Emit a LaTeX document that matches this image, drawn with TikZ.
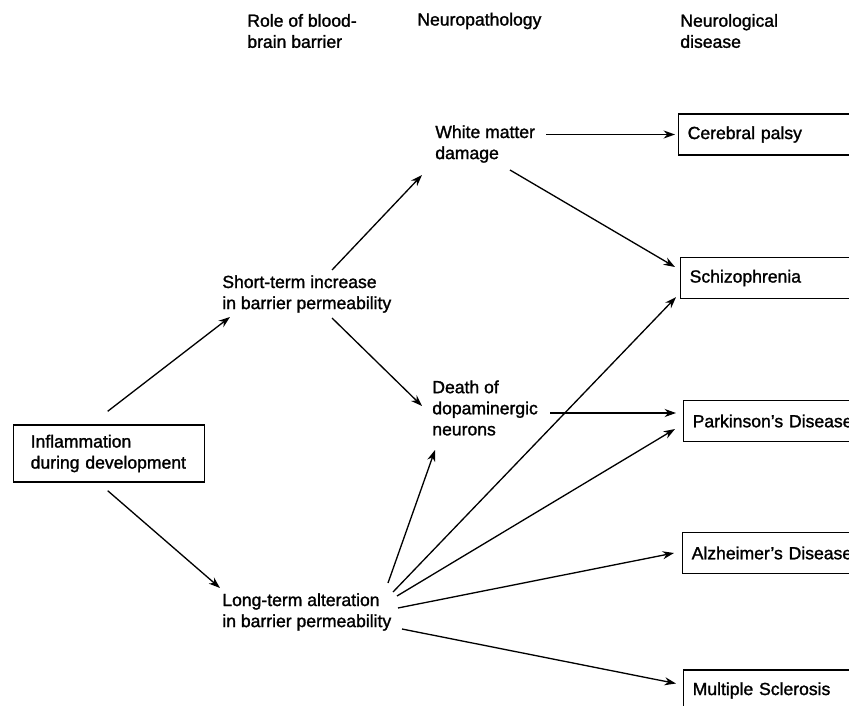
\documentclass[tikz,border=0pt]{standalone}
\usepackage{fontspec}
\setmainfont{Liberation Sans}[AutoFakeBold=1.4]
\usetikzlibrary{arrows.meta, positioning, calc}

\begin{document}
\begin{tikzpicture}[x=0.02cm, y=-0.02cm,
    lbl/.style={anchor=west, align=left, inner sep=0pt, font=\fontsize{10}{12}\selectfont\bfseries},
    dis/.style={draw, line width=0.8pt, anchor=west, minimum height=0.82cm,
                text width=4cm, inner xsep=0.18cm, font=\fontsize{10}{12}\selectfont\bfseries},
    arr/.style={-{Stealth[length=6.5pt, width=4.6pt]}, line width=0.75pt}
]
\clip (0,0) rectangle (849,706);
%% column headings
\node[lbl] (hRole) at (247,31) {Role of blood-\\brain barrier};
\node[lbl] (hPath) at (417,21) {Neuropathology};
\node[lbl] (hDis)  at (680,31) {Neurological\\disease};
%% cause
\node[draw, line width=0.8pt, anchor=west, minimum height=1.14cm,
      text width=3.14cm, inner xsep=0.34cm, align=left,
      font=\fontsize{10}{12}\selectfont\bfseries] (infl) at (13,453.5)
      {Inflammation\\during development};
%% role of the barrier
\node[lbl] (st) at (222,294) {Short-term increase\\in barrier permeability};
\node[lbl] (lt) at (222,612) {Long-term alteration\\in barrier permeability};
%% neuropathology
\node[lbl] (wm) at (435,144) {White matter\\damage};
\node[lbl] (dd) at (432,408) {Death of\\dopaminergic\\neurons};
%% diseases (boxes run off the right edge)
\node[dis] (cp) at (678,134.5) {Cerebral palsy};
\node[dis] (sz) at (680,278) {Schizophrenia};
\node[dis] (pd) at (683,421) {Parkinson's Disease};
\node[dis] (ad) at (682,553) {Alzheimer's Disease};
\node[dis] (ms) at (683,690.5) {Multiple Sclerosis};
%% arrows from inflammation
\draw[arr] ($(infl.north)+(-1.5,-13)$) -- ($(st.west)+(8,23)$);
\draw[arr] ($(infl.south)+(-1.5,8)$) -- ($(lt.west)+(-2,-24)$);
%% short-term branch
\draw[arr] ($(st.west)+(110,-24)$) -- ($(wm.west)+(-13,31)$);
\draw[arr] ($(st.west)+(110,24)$) -- ($(dd.west)+(-10,-2)$);
%% white matter damage
\draw[arr] ($(cp.west)+(-132,0)$) -- ($(cp.west)+(-3,0)$);
\draw[arr] ($(wm.west)+(75,26)$) -- ($(sz.west)+(-5,-11)$);
%% dopaminergic neurons
\draw[arr] ($(pd.west)+(-133,-8)$) -- ($(pd.west)+(-7,-8)$);
%% long-term branch
\draw[arr] ($(lt.west)+(166,-29)$) -- ($(dd.west)+(3,42)$);
\draw[arr] ($(lt.west)+(171,-20)$) -- ($(sz.south west)+(-4,-2)$);
\draw[arr] ($(lt.west)+(175,-16)$) -- ($(pd.west)+(-8,8)$);
\draw[arr] ($(lt.west)+(176,-4)$) -- ($(ad.west)+(-8,0)$);
\draw[arr] ($(lt.west)+(180,17)$) -- ($(ms.west)+(-7,-7)$);
\end{tikzpicture}
\end{document}
